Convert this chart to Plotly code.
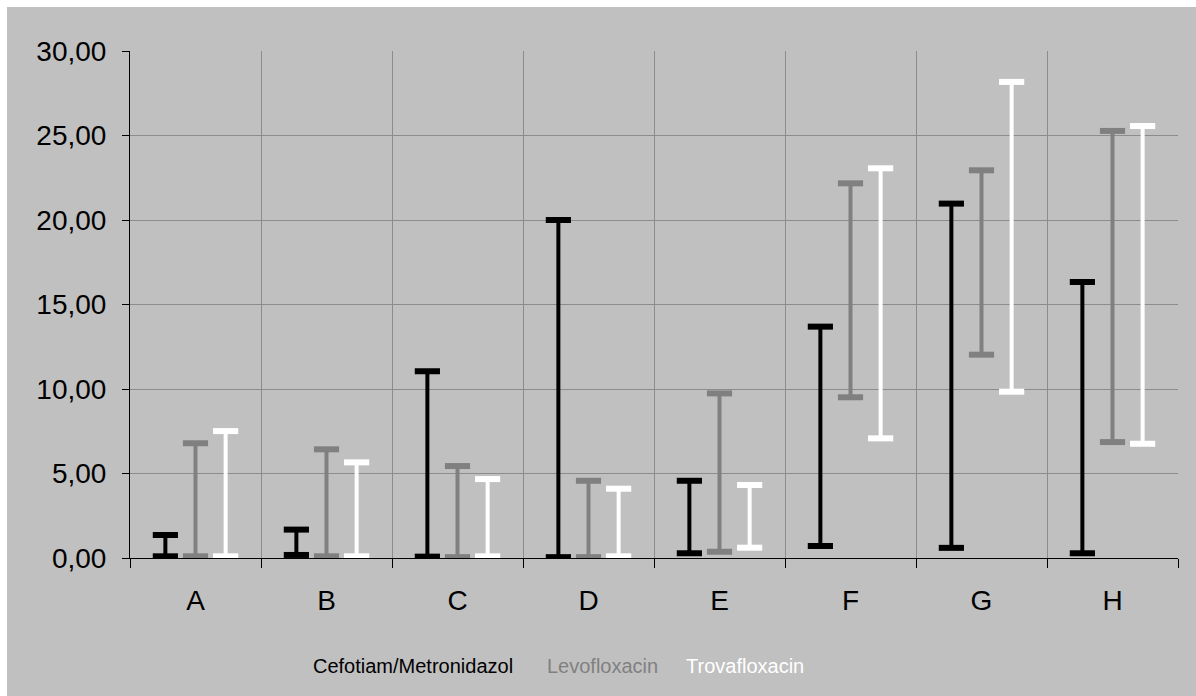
import plotly.graph_objects as go

categories = ["A", "B", "C", "D", "E", "F", "G", "H"]
series_names = ["Cefotiam/Metronidazol", "Levofloxacin", "Trovafloxacin"]
series_colors = ["#000000", "#808080", "#ffffff"]

cefo_low = [0.10, 0.18, 0.08, 0.05, 0.28, 0.71, 0.60, 0.28]
cefo_high = [1.36, 1.68, 11.05, 20.00, 4.57, 13.69, 20.97, 16.33]
levo_low = [0.10, 0.10, 0.05, 0.05, 0.37, 9.51, 12.03, 6.86]
levo_high = [6.79, 6.43, 5.44, 4.57, 9.74, 22.17, 22.94, 25.27]
trova_low = [0.10, 0.10, 0.10, 0.10, 0.61, 7.08, 9.84, 6.76]
trova_high = [7.51, 5.66, 4.67, 4.10, 4.32, 23.06, 28.17, 25.56]

lows = [cefo_low, levo_low, trova_low]
highs = [cefo_high, levo_high, trova_high]
offsets = [-0.23, 0.0, 0.23]

fig = go.Figure()
for name, color, lo, hi, off in zip(series_names, series_colors, lows, highs, offsets):
    xs, ys = [], []
    for i in range(len(categories)):
        xs += [i + off, i + off, None]
        ys += [lo[i], hi[i], None]
    fig.add_trace(go.Scatter(
        x=xs, y=ys, mode="lines+markers", name=name,
        line=dict(color=color, width=4),
        marker=dict(symbol="line-ew", size=18, line=dict(color=color, width=6)),
        showlegend=False, hoverinfo="skip",
    ))

W, H = 1196, 696
ml, mr, mt, mb = 130, 18, 51, 138
pw, ph = W - ml - mr, H - mt - mb

def px_x(p):
    return (p - ml) / pw

def px_y(p):
    return (H - mb - p) / ph

shapes = [
    dict(type="rect", xref="paper", yref="paper", x0=px_x(0), x1=px_x(7), y0=px_y(H), y1=px_y(0),
         fillcolor="#ffffff", line=dict(width=0), layer="below"),
    dict(type="rect", xref="paper", yref="paper", x0=px_x(0), x1=px_x(W), y0=px_y(7), y1=px_y(0),
         fillcolor="#ffffff", line=dict(width=0), layer="below"),
]

legend_left = [311, 545, 684]
annotations = []
for name, color, lx in zip(series_names, series_colors, legend_left):
    annotations.append(dict(
        text=name, x=px_x(lx), y=px_y(666), xref="paper", yref="paper",
        showarrow=False, xanchor="left", yanchor="middle",
        font=dict(family="Liberation Sans, Arial", size=20, color=color),
    ))

fig.update_layout(
    width=W, height=H,
    margin=dict(l=ml, r=mr, t=mt, b=mb),
    paper_bgcolor="#c0c0c0", plot_bgcolor="#c0c0c0",
    separators=",.",
    font=dict(family="Liberation Sans, Arial", size=28, color="#000000"),
    shapes=shapes, annotations=annotations,
    showlegend=False,
)
fig.update_xaxes(
    range=[-0.5, len(categories) - 0.5],
    tickvals=list(range(len(categories))), ticktext=categories,
    ticks="", showgrid=False, zeroline=False,
    showline=True, linecolor="#000000", linewidth=1,
    ticklabelstandoff=17,
    minor=dict(tickvals=[i - 0.5 for i in range(len(categories) + 1)], ticks="outside",
               ticklen=9, tickcolor="#000000", showgrid=True, gridcolor="#8c8c8c", gridwidth=1),
)
fig.update_yaxes(
    range=[0, 30], dtick=5, tickformat=".2f",
    ticks="outside", ticklen=7, tickcolor="#000000",
    showgrid=True, gridcolor="#8c8c8c", gridwidth=1, zeroline=False,
    showline=True, linecolor="#000000", linewidth=1,
    ticklabelstandoff=10,
)
fig.write_html("out.html")
